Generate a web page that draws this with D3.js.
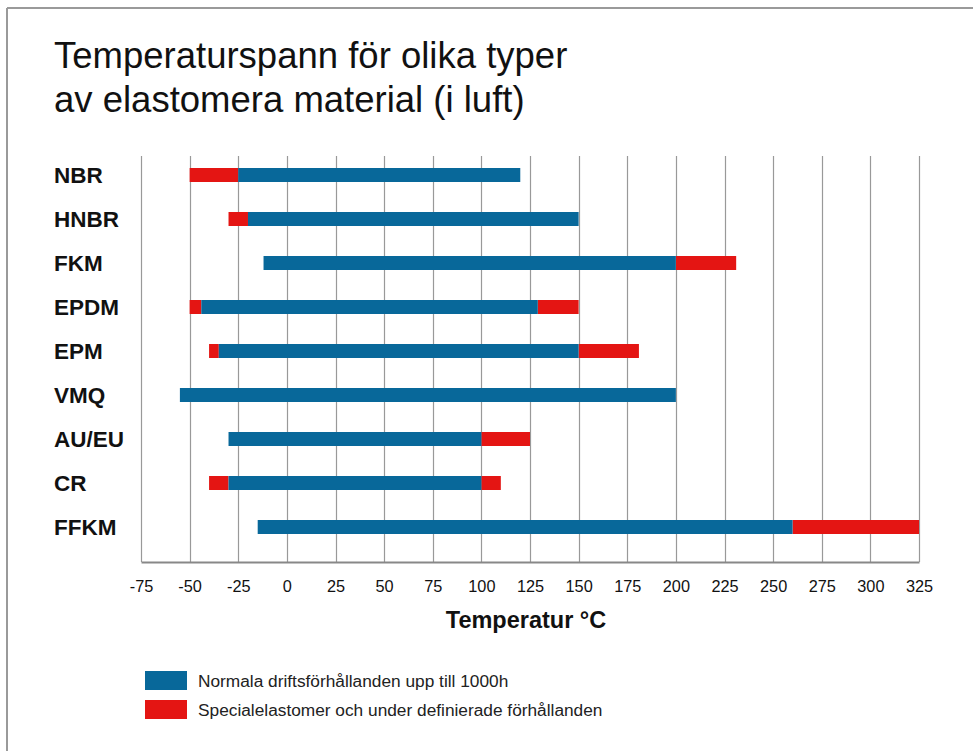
<!DOCTYPE html>
<html>
<head>
<meta charset="utf-8">
<script src="https://cdn.jsdelivr.net/npm/d3@7"></script>
<style>
  body { margin: 0; background: #fff; }
  svg { display: block; font-family: "Liberation Sans", Arial, sans-serif; }
</style>
</head>
<body>
<div id="chart"></div>
<script>
// data
var materials = ["NBR", "HNBR", "FKM", "EPDM", "EPM", "VMQ", "AU/EU", "CR", "FFKM"];
var normalMin = [-25, -20, -12, -44, -35, -55, -30, -30, -15];
var normalMax = [120, 150, 200, 129, 150, 200, 100, 100, 260];
// special ranges below / above the normal range (null = none)
var specialLow = [-50, -30, null, -50, -40, null, null, -40, null];
var specialHigh = [null, null, 231, 150, 181, null, 125, 110, 325];
var ticks = [-75, -50, -25, 0, 25, 50, 75, 100, 125, 150, 175, 200, 225, 250, 275, 300, 325];
var legendLabels = ["Normala driftsförhållanden upp till 1000h", "Specialelastomer och under definierade förhållanden"];

var width = 973, height = 751;
var blue = "#08689a", red = "#e41513";

var svg = d3.select("#chart").append("svg")
    .attr("width", width)
    .attr("height", height);

// frame (left and top edges)
svg.append("line").attr("x1", 7).attr("x2", 7).attr("y1", 8).attr("y2", height)
  .attr("stroke", "#9a9a9a").attr("stroke-width", 2);
svg.append("line").attr("x1", 7).attr("x2", width).attr("y1", 8).attr("y2", 8)
  .attr("stroke", "#9a9a9a").attr("stroke-width", 2);

// title
var title = svg.append("text")
  .attr("font-size", 36.5)
  .attr("fill", "#111");
title.append("tspan").attr("x", 54).attr("y", 68).text("Temperaturspann för olika typer");
title.append("tspan").attr("x", 54).attr("y", 112).text("av elastomera material (i luft)");

var x = d3.scaleLinear().domain([-75, 325]).range([141, 919]);
var y = d3.scaleBand().domain(materials).range([153, 549]);
var barH = 14;

// grid lines
svg.append("g")
  .selectAll("line")
  .data(ticks)
  .enter()
  .append("line")
    .attr("x1", function(d) { return Math.round(x(d)) + 0.5; })
    .attr("x2", function(d) { return Math.round(x(d)) + 0.5; })
    .attr("y1", 156)
    .attr("y2", 562)
    .attr("stroke", "#999")
    .attr("stroke-width", 1.2);

// bottom axis
var xAxis = svg.append("g")
  .attr("transform", "translate(0,562)")
  .call(d3.axisBottom(x).tickValues(ticks).tickSize(0).tickPadding(18)
    .tickFormat(function(d) { return String(d); }));
xAxis.select(".domain").attr("stroke", "#888").attr("stroke-width", 2);
xAxis.selectAll("text")
  .attr("font-size", 16.3)
  .attr("fill", "#111")
  .attr("font-family", "Liberation Sans, Arial, sans-serif");

// axis title
svg.append("text")
  .attr("x", 526)
  .attr("y", 628)
  .attr("text-anchor", "middle")
  .attr("font-size", 23.5)
  .attr("font-weight", "bold")
  .attr("fill", "#111")
  .text("Temperatur °C");

// category labels
svg.append("g")
  .selectAll("text")
  .data(materials)
  .enter()
  .append("text")
    .attr("x", 54)
    .attr("y", function(d) { return y(d) + y.bandwidth() / 2 + 8; })
    .attr("font-size", 22.5)
    .attr("font-weight", "bold")
    .attr("fill", "#111")
    .text(function(d) { return d; });

// bars
var rows = materials.map(function(m, i) {
  return { name: m, nMin: normalMin[i], nMax: normalMax[i], sLow: specialLow[i], sHigh: specialHigh[i] };
});

var bars = svg.append("g");

bars.selectAll(".low")
  .data(rows.filter(function(d) { return d.sLow !== null; }))
  .enter()
  .append("rect")
    .attr("class", "low")
    .attr("x", function(d) { return x(d.sLow); })
    .attr("y", function(d) { return y(d.name) + (y.bandwidth() - barH) / 2; })
    .attr("width", function(d) { return x(d.nMin) - x(d.sLow); })
    .attr("height", barH)
    .attr("fill", red);

bars.selectAll(".high")
  .data(rows.filter(function(d) { return d.sHigh !== null; }))
  .enter()
  .append("rect")
    .attr("class", "high")
    .attr("x", function(d) { return x(d.nMax); })
    .attr("y", function(d) { return y(d.name) + (y.bandwidth() - barH) / 2; })
    .attr("width", function(d) { return x(d.sHigh) - x(d.nMax); })
    .attr("height", barH)
    .attr("fill", red);

bars.selectAll(".normal")
  .data(rows)
  .enter()
  .append("rect")
    .attr("class", "normal")
    .attr("x", function(d) { return x(d.nMin); })
    .attr("y", function(d) { return y(d.name) + (y.bandwidth() - barH) / 2; })
    .attr("width", function(d) { return x(d.nMax) - x(d.nMin); })
    .attr("height", barH)
    .attr("fill", blue);

// legend
var legend = svg.append("g")
  .selectAll("g")
  .data(legendLabels)
  .enter()
  .append("g")
    .attr("transform", function(d, i) { return "translate(145," + (671 + i * 29) + ")"; });

legend.append("rect")
  .attr("width", 42)
  .attr("height", 19)
  .attr("fill", function(d, i) { return i === 0 ? blue : red; });

legend.append("text")
  .attr("x", 53)
  .attr("y", 16)
  .attr("font-size", 17.3)
  .attr("fill", "#222")
  .text(function(d) { return d; });
</script>
</body>
</html>
